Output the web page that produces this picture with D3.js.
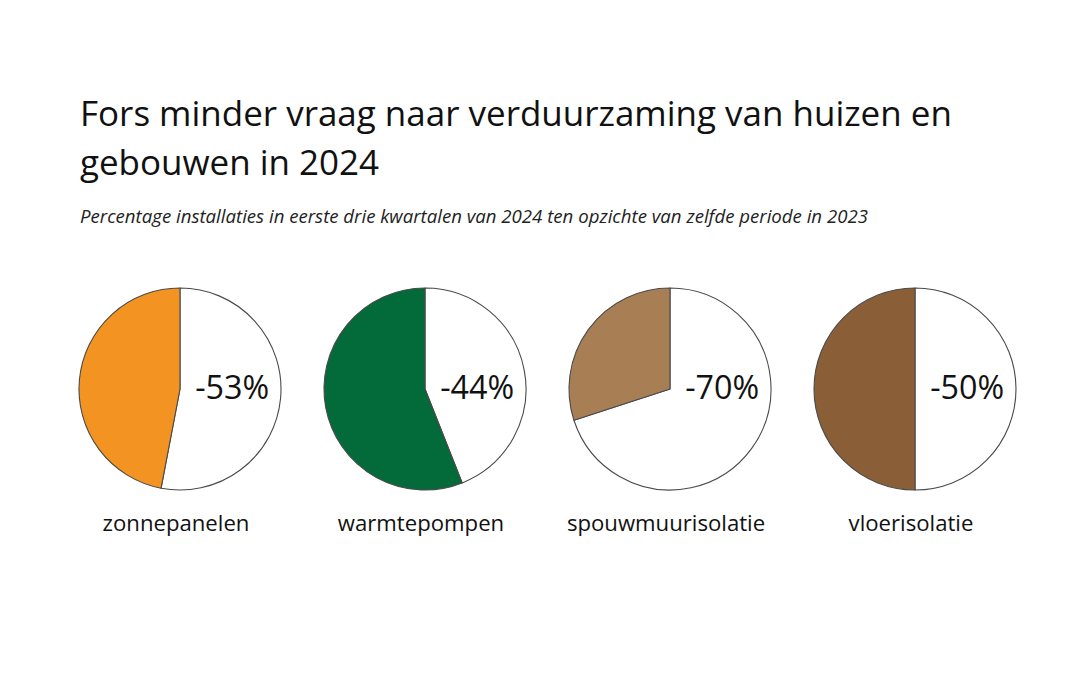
<!DOCTYPE html>
<html>
<head>
<meta charset="utf-8">
<script src="https://cdn.jsdelivr.net/npm/d3@7"></script>
<style>
  body { margin: 0; background: #fff; }
  svg { display: block; }
</style>
</head>
<body>
<svg id="chart"></svg>
<script>
// data
var categories = ['zonnepanelen', 'warmtepompen', 'spouwmuurisolatie', 'vloerisolatie'];
var declines = [53, 44, 70, 50];           // % drop 2024 vs 2023
var colors = ['#f39422', '#036b39', '#a87e55', '#8a5f37'];
var titleLines = ['Fors minder vraag naar verduurzaming van huizen en', 'gebouwen in 2024'];
var subtitle = 'Percentage installaties in eerste drie kwartalen van 2024 ten opzichte van zelfde periode in 2023';

var width = 1080, height = 675;
var svg = d3.select('#chart').attr('width', width).attr('height', height);

var font = '"Open Sans", "Noto Sans", sans-serif';

// scale a text's font size so it spans the wanted width
function fit(sel, target) {
  var fs = parseFloat(sel.attr('font-size'));
  var w = sel.node().getComputedTextLength();
  sel.attr('font-size', (fs * target / w).toFixed(2) + 'px');
  return fs * target / w;
}

// title
var t1 = svg.append('text').attr('x', 80).attr('y', 126)
  .attr('font-family', font).attr('font-size', 32).attr('fill', '#111')
  .text(titleLines[0]);
var titleSize = fit(t1, 872);
svg.append('text').attr('x', 80).attr('y', 175)
  .attr('font-family', font).attr('font-size', titleSize + 'px').attr('fill', '#111')
  .text(titleLines[1]);

var st = svg.append('text').attr('x', 80).attr('y', 223)
  .attr('font-family', font).attr('font-style', 'italic')
  .attr('font-size', 15).attr('fill', '#222')
  .text(subtitle);
fit(st, 788);

// pies
var x = d3.scalePoint().domain(categories).range([180, 915]);
var cy = 389, r = 101;

var pie = d3.pie().sort(null);
var arc = d3.arc().innerRadius(0).outerRadius(r);

var g = svg.selectAll('g.pie')
  .data(categories)
  .join('g')
  .attr('class', 'pie')
  .attr('transform', function(d) { return 'translate(' + x(d) + ',' + cy + ')'; });

g.each(function(d, i) {
  var el = d3.select(this);
  var slices = pie([declines[i], 100 - declines[i]]);
  el.selectAll('path')
    .data(slices)
    .join('path')
    .attr('d', arc)
    .attr('fill', function(s, j) { return j === 0 ? '#fff' : colors[i]; })
    .attr('stroke', '#4a4a4a')
    .attr('stroke-width', 1.1)
    .attr('stroke-linejoin', 'round');
});

// percentage labels
var pctSize = 30;
var pct = g.append('text')
  .attr('x', r * 0.15)
  .attr('y', 10)
  .attr('font-family', font)
  .attr('font-size', pctSize)
  .attr('fill', '#111')
  .text(function(d, i) { return '-' + declines[i] + '%'; });
pctSize = fit(d3.select(pct.nodes()[0]), 74);
pct.attr('font-size', pctSize + 'px');

// category labels
var lab = g.append('text')
  .attr('x', -4)
  .attr('y', 142)
  .attr('text-anchor', 'middle')
  .attr('font-family', font)
  .attr('font-size', 20)
  .attr('fill', '#111')
  .text(function(d) { return d; });
var labSize = fit(d3.select(lab.nodes()[0]), 147);
lab.attr('font-size', labSize + 'px');
</script>
</body>
</html>
